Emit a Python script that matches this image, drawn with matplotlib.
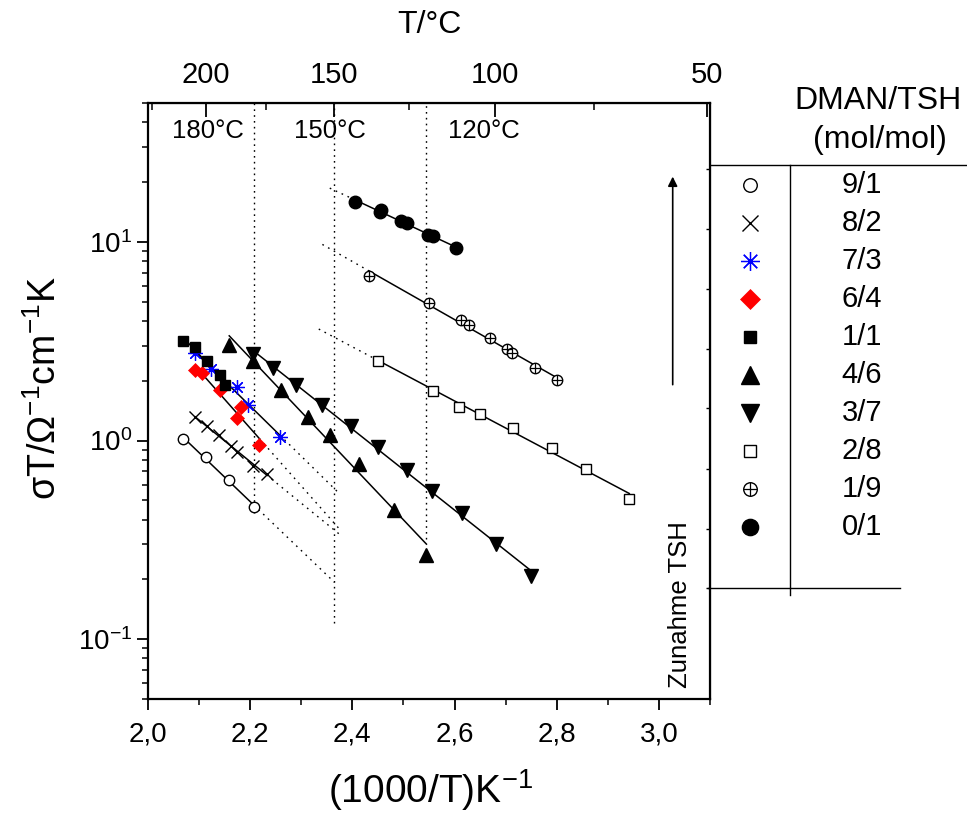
import numpy as np
import matplotlib
matplotlib.use('Agg')
import matplotlib.pyplot as plt
from matplotlib.ticker import FixedLocator, FuncFormatter, NullFormatter, LogLocator

plt.rcParams['font.family'] = ['Liberation Sans', 'DejaVu Sans']
plt.rcParams['mathtext.fontset'] = 'custom'
plt.rcParams['mathtext.rm'] = 'Liberation Sans'
plt.rcParams['mathtext.it'] = 'Liberation Sans:italic'
plt.rcParams['mathtext.bf'] = 'Liberation Sans:bold'

# --- Daten: 1000/T (K^-1) und sigma*T (Ohm^-1 cm^-1 K)
ratios = ['9/1', '8/2', '7/3', '6/4', '1/1', '4/6', '3/7', '2/8', '1/9', '0/1']

x_91 = [2.069, 2.113, 2.159, 2.207]
y_91 = [1.015, 0.824, 0.633, 0.465]
x_82 = [2.092, 2.115, 2.138, 2.162, 2.174, 2.206, 2.232]
y_82 = [1.31, 1.184, 1.067, 0.943, 0.88, 0.748, 0.68]
x_73 = [2.092, 2.123, 2.174, 2.196, 2.258]
y_73 = [2.75, 2.29, 1.855, 1.51, 1.04]
x_64 = [2.092, 2.105, 2.141, 2.174, 2.183, 2.218]
y_64 = [2.27, 2.18, 1.80, 1.295, 1.47, 0.95]
x_11 = [2.069, 2.092, 2.115, 2.141, 2.151]
y_11 = [3.18, 2.95, 2.52, 2.14, 1.90]
x_46 = [2.159, 2.206, 2.261, 2.314, 2.356, 2.413, 2.481, 2.545]
y_46 = [3.03, 2.52, 1.80, 1.31, 1.067, 0.763, 0.448, 0.266]
x_37 = [2.206, 2.245, 2.290, 2.340, 2.397, 2.450, 2.507, 2.556, 2.614, 2.681, 2.750]
y_37 = [2.73, 2.31, 1.90, 1.51, 1.187, 0.932, 0.711, 0.560, 0.434, 0.301, 0.207]
x_28 = [2.450, 2.557, 2.608, 2.650, 2.714, 2.790, 2.858, 2.942]
y_28 = [2.52, 1.782, 1.481, 1.361, 1.161, 0.915, 0.720, 0.508]
x_19 = [2.433, 2.550, 2.613, 2.628, 2.670, 2.702, 2.712, 2.757, 2.801]
y_19 = [6.76, 4.91, 4.05, 3.82, 3.29, 2.88, 2.77, 2.31, 2.02]
x_01 = [2.405, 2.454, 2.457, 2.496, 2.506, 2.549, 2.558, 2.603]
y_01 = [15.8, 14.2, 14.5, 12.8, 12.4, 10.8, 10.7, 9.29]

xs = [x_91, x_82, x_73, x_64, x_11, x_46, x_37, x_28, x_19, x_01]
ys = [y_91, y_82, y_73, y_64, y_11, y_46, y_37, y_28, y_19, y_01]

# Endpunkt der gepunkteten Extrapolation (None = keine)
extrap_to = [2.365, 2.375, 2.375, 2.375, None, None, None, 2.33, 2.34, 2.35]

# senkrechte Hilfslinien bei festen Temperaturen (°C), unteres Ende, Textlage
t_lines = [180, 150, 120]
t_line_bottom = [0.43, 0.12, 0.32]
t_label_x = [2.117, 2.356, 2.657]

styles = [
    dict(marker='o', ms=7.5, mfc='white', mec='black', mew=1.0),
    dict(marker='x', ms=8.5, mec='black', mew=1.0),
    dict(marker=(8, 2, 0), ms=10.5, mec='blue', color='blue', mew=0.9),
    dict(marker='D', ms=7.5, mfc='red', mec='red', mew=0.5),
    dict(marker='s', ms=7, mfc='black', mec='black'),
    dict(marker='^', ms=9.5, mfc='black', mec='black'),
    dict(marker='v', ms=9.5, mfc='black', mec='black'),
    dict(marker='s', ms=6.5, mfc='white', mec='black', mew=1.0),
    dict(marker='o', ms=7.5, mfc='white', mec='black', mew=1.0),
    dict(marker='o', ms=9, mfc='black', mec='black'),
]

W, H = 967, 814
fig = plt.figure(figsize=(W / 100, H / 100), dpi=100)
ax = fig.add_axes([148 / W, 1 - 699 / H, 562 / W, 596 / H])
ax.set_yscale('log')
ax.set_xlim(2.0, 3.1)
ax.set_ylim(0.05, 50)


def draw(a, x, y, i, scale=1.0):
    st = dict(styles[i])
    st['ms'] = st['ms'] * scale
    a.plot(x, y, ls='none', zorder=3, clip_on=False, **st)
    if i == 8:  # Kreis mit Kreuz
        a.plot(x, y, ls='none', marker='+', ms=st['ms'], mec='black', mew=0.9,
               zorder=3.1, clip_on=False)


for i, r in enumerate(ratios):
    x = np.array(xs[i])
    y = np.array(ys[i])
    k, d = np.polyfit(x, np.log10(y), 1)
    xl = np.array([x.min(), x.max()])
    ax.plot(xl, 10 ** (k * xl + d), color='black', lw=1.1, zorder=2)
    if extrap_to[i] is not None:
        xe = extrap_to[i]
        x0 = x.max() if xe > x.max() else x.min()
        xd = np.array([x0, xe])
        ax.plot(xd, 10 ** (k * xd + d), color='black', lw=1.0,
                ls=(0, (1.2, 3.5)), zorder=2)
    draw(ax, x, y, i)

for t, yb, xt in zip(t_lines, t_line_bottom, t_label_x):
    xv = 1000 / (t + 273.15)
    ax.plot([xv, xv], [yb, 50], color='black', lw=1.0, ls=(0, (1.2, 3)), zorder=1)
    ax.text(xt, 36, f'{t}°C', fontsize=18.5, ha='center', va='center')

# Achsen
ax.xaxis.set_major_locator(FixedLocator(np.arange(2.0, 3.01, 0.2)))
ax.xaxis.set_minor_locator(FixedLocator(np.arange(2.1, 3.11, 0.2)))
ax.xaxis.set_major_formatter(FuncFormatter(lambda v, p: f'{v:.1f}'.replace('.', ',')))
ax.yaxis.set_major_locator(LogLocator(base=10))
ax.yaxis.set_minor_locator(LogLocator(base=10, subs=np.arange(2, 10)))
ax.yaxis.set_minor_formatter(NullFormatter())
ax.yaxis.set_major_formatter(FuncFormatter(
    lambda v, p: '10$^{%d}$' % int(round(np.log10(v)))))
ax.tick_params(which='major', direction='out', length=8, width=1.3,
               labelsize=20, top=False, right=False)
ax.tick_params(which='minor', direction='out', length=4, width=1.1,
               top=False, right=False)
ax.tick_params(axis='x', which='major', pad=8)
for s in ax.spines.values():
    s.set_linewidth(1.6)

secx = ax.secondary_xaxis('top', functions=(lambda v: 1000 / v - 273.15,
                                             lambda t: 1000 / (t + 273.15)))
secx.set_xticks([200, 150, 100, 50])
secx.xaxis.set_minor_locator(FixedLocator([225, 175, 125, 75]))
secx.tick_params(which='major', direction='in', length=10, width=1.3,
                 labelsize=21, pad=10)
secx.tick_params(which='minor', direction='in', length=5, width=1.1)
secx.set_xlabel('T/°C', fontsize=23, labelpad=20)

secy = ax.secondary_yaxis('right')
secy.yaxis.set_major_locator(FixedLocator([0.18, 0.36, 0.72, 1.45, 2.9, 5.8, 11.6, 23.2]))
secy.yaxis.set_minor_locator(FixedLocator([]))
secy.yaxis.set_major_formatter(NullFormatter())
secy.tick_params(which='major', direction='in', length=3, width=1.0)

fig.text(430 / W, 1 - 790 / H, '(1000/T)K$^{-1}$', fontsize=28,
         ha='center', va='center')
fig.text(45 / W, 1 - 388 / H, 'σT/Ω$^{-1}$cm$^{-1}$K', fontsize=27,
         ha='center', va='center', rotation=90)

# Pfeil und Beschriftung
ax.annotate('', xy=(3.027, 22), xytext=(3.027, 1.85),
            arrowprops=dict(arrowstyle='-|>', color='black', lw=1.2,
                            mutation_scale=14))
ax.text(3.041, 0.149, 'Zunahme TSH', rotation=90, fontsize=18.5,
        ha='center', va='center')

# Legendentabelle rechts (Pixelkoordinaten)
ov = fig.add_axes([0, 0, 1, 1])
ov.set_xlim(0, W)
ov.set_ylim(H, 0)
ov.axis('off')
ov.plot([710, W], [165, 165], color='black', lw=1.0)
ov.plot([790, 790], [165, 595], color='black', lw=1.0)
ov.plot([708, 900], [588, 588], color='black', lw=1.0)
ov.text(878, 101, 'DMAN/TSH', fontsize=23, ha='center', va='center')
ov.text(880, 140, '(mol/mol)', fontsize=23, ha='center', va='center')
for i, r in enumerate(ratios):
    ry = 185 + i * 38
    draw(ov, [750], [ry], i, scale=1.3)
    ov.text(862, ry, r, fontsize=21, ha='center', va='center')

fig.savefig('out.png', dpi=100)
